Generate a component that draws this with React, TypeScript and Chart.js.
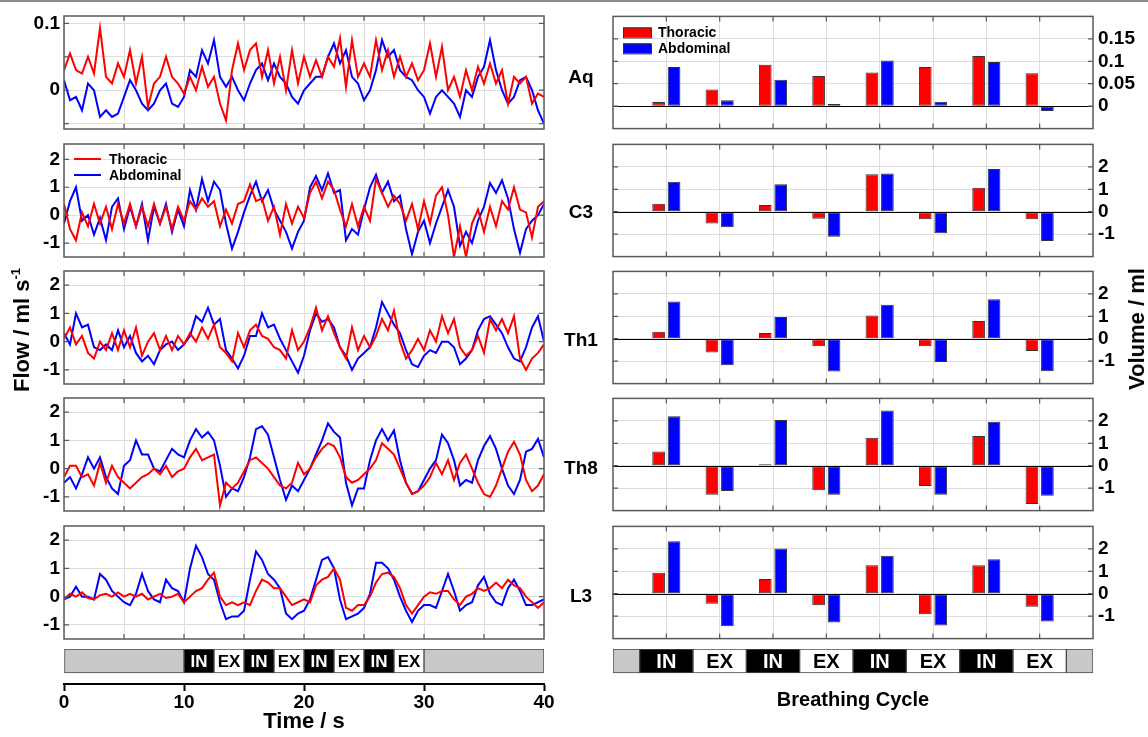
import React, { useEffect, useRef } from "react";
import { Chart, registerables } from "chart.js";

Chart.register(...registerables);

const FONT = "'Liberation Sans', Arial, Helvetica, sans-serif";
const RED = "#ff0000";
const BLUE = "#0000ff";
const GRID = "#dedede";
const FRAME = "#5a5a5a";

// ------------------------------------------------------------------ data
const SERIES_NAMES = ["Thoracic", "Abdominal"];
const ROW_NAMES = ["Aq", "C3", "Th1", "Th8", "L3"];
const SAMPLE_STEP_S = 0.5; // flow samples every 0.5 s, 0..40 s

const AQ_FLOW_THORACIC = [
  0.03, 0.055, 0.03, 0.025, 0.05, 0.025, 0.093, 0.02, 0.01, 0.04,
  0.02, 0.06, 0.01, 0.05, -0.025, 0.01, 0.02, 0.05, 0.02, 0.01,
  -0.005, 0.02, 0.0, 0.035, 0.005, 0.02, -0.02, -0.045, 0.03, 0.07,
  0.03, 0.06, 0.07, 0.02, 0.06, 0.01, 0.05, 0.0, 0.06, 0.01,
  0.05, 0.02, 0.045, 0.02, 0.05, 0.035, 0.078, 0.005, 0.075, 0.02,
  0.04, 0.02, 0.075, 0.03, 0.06, 0.02, 0.05, 0.02, 0.04, 0.015,
  0.03, 0.07, 0.02, 0.065, 0.0, 0.02, -0.01, 0.03, 0.0, 0.035,
  0.01, 0.04, 0.01, 0.03, -0.02, 0.02, 0.01, 0.02, -0.02, -0.005,
  -0.01,
];
const AQ_FLOW_ABDOMINAL = [
  0.015, -0.015, -0.01, -0.03, 0.01, 0.0, -0.04, -0.03, -0.04, -0.035,
  -0.01, 0.015, 0.0, -0.02, -0.03, -0.02, 0.0, 0.01, -0.02, -0.025,
  -0.01, 0.03, 0.02, 0.06, 0.04, 0.075, 0.02, 0.005, 0.02, 0.0,
  -0.015, 0.01, 0.03, 0.04, 0.015, 0.04, 0.02, 0.01, -0.01, -0.02,
  0.0, 0.01, 0.02, 0.02, 0.05, 0.07, 0.04, 0.06, 0.02, 0.01,
  -0.015, 0.0, 0.03, 0.075, 0.05, 0.06, 0.03, 0.02, 0.015, 0.0,
  -0.01, -0.035, -0.01, 0.0, -0.01, -0.02, -0.04, 0.0, -0.01, 0.02,
  0.035, 0.075, 0.03, 0.0, -0.02, -0.01, 0.015, 0.02, 0.0, -0.03,
  -0.05,
];
const C3_FLOW_THORACIC = [
  0.4, -0.5, -0.9, 0.1, -0.4, 0.4, -0.3, 0.3, -0.5, 0.4,
  -0.3, 0.4, -0.4, 0.3, -0.4, 0.4, -0.3, 0.3, -0.5, 0.3,
  -0.2, 0.5, 0.2, 0.6, 0.3, 0.5, -0.4, 0.2, -0.3, 0.4,
  0.5, 1.1, 0.5, 0.6, -0.2, 0.3, -0.7, 0.4, -0.3, 0.3,
  -0.1, 0.8, 1.2, 0.6, 1.2, 0.9, 0.2, -0.4, 0.4, -0.4,
  0.3, -0.2, 1.3, 0.8, 0.3, 0.7, 0.4, -0.2, 0.4, -0.5,
  0.5, -0.3, 0.7, 1.0, 0.0, -1.5, -0.4, -1.5, -0.3, 0.2,
  -0.6, 0.3, -0.4, 0.5, 0.2, 1.0, 0.2, 0.1, -0.8, 0.3,
  0.5,
];
const C3_FLOW_ABDOMINAL = [
  -0.3, 0.5, 1.0, -0.2, 0.0, -0.7, -0.1, -0.9, 0.3, 0.6,
  -0.5, 0.3, -0.4, 0.4, -0.9, 0.3, -0.3, 0.4, -0.6, 0.2,
  -0.4, 0.9, 0.2, 1.3, 0.5, 1.2, 0.9, -0.3, -1.2, -0.6,
  0.1, 0.7, 1.2, 0.5, 0.9, 0.2, -0.2, -0.6, -1.2, -0.6,
  -0.2, 1.0, 1.4, 0.9, 1.5, 0.8, 0.9, -0.9, -0.5, -0.7,
  0.2, 1.0, 1.45, 0.8, 1.2, 0.5, 0.7, -0.5, -1.4, -0.6,
  -0.2, -1.0, -0.3, 0.3, 0.9, 0.3, -1.1, -0.6, -1.0, -0.2,
  0.3, 1.15, 0.8, 1.25, 0.6, -0.5, -1.35, -0.5, -0.2, 0.0,
  0.4,
];
const TH1_FLOW_THORACIC = [
  0.1, 0.5, -0.1, 0.2, -0.4, -0.6, 0.0, -0.3, 0.3, -0.3,
  0.4, -0.2, 0.5, -0.5, 0.0, 0.3, -0.3, 0.2, -0.3, 0.2,
  -0.1, 0.3, 0.0, 0.5, 0.1, 0.6, -0.2, -0.4, -0.7, 0.3,
  -0.2, 0.4, 0.6, 0.2, 0.1, -0.2, -0.3, -0.6, 0.4, -0.3,
  0.0, 0.5, 1.2, 0.4, 0.9, 0.3, -0.2, -0.6, 0.5, -0.3,
  0.2, -0.2, 0.2, 0.8, 0.4, 1.1, 0.0, -0.6, -0.3, 0.1,
  -0.3, 0.4, 0.0, 0.9, 0.3, 0.8, -0.2, -0.5, -0.3, 0.2,
  -0.4, 0.8, 0.4, 0.8, 0.3, 0.9, -0.6, -1.0, -0.6, -0.4,
  -0.1,
];
const TH1_FLOW_ABDOMINAL = [
  0.3, -0.1, 1.0, 0.5, 0.6, -0.2, -0.3, -0.1, -0.3, 0.4,
  -0.2, 0.2, -0.4, -0.7, -0.5, -0.8, -0.3, -0.1, 0.0, -0.3,
  -0.1, 0.2, 0.9, 0.7, 1.2, 0.6, 0.8, -0.3, -0.6, -0.95,
  -0.5, 0.2, 0.2, 1.0, 0.5, 0.6, 0.1, -0.3, -0.7, -1.1,
  -0.5, 0.4, 1.0, 0.7, 0.8, 0.5, -0.2, -0.5, -1.0, -0.6,
  -0.4, -0.2, 0.5, 1.4, 1.0, 0.6, 0.3, -0.3, -0.8, -0.9,
  -0.5, -0.3, -0.4, 0.0, 0.0, -0.2, -0.8, -0.6, -0.3, 0.4,
  0.8, 0.9, 0.6, 0.3, -0.2, -0.6, -0.7, -0.2, 0.5, 0.9,
  0.0,
];
const TH8_FLOW_THORACIC = [
  -0.3, 0.1, 0.1, -0.3, -0.2, -0.6, 0.2, -0.5, 0.1, -0.3,
  -0.5, -0.7, -0.5, -0.3, -0.2, 0.0, -0.2, 0.1, -0.3, -0.1,
  0.0, 0.4, 0.7, 0.3, 0.4, 0.5, -1.3, -0.5, -0.7, -0.5,
  -0.1, 0.3, 0.4, 0.2, 0.0, -0.3, -0.6, -0.7, -0.5, 0.2,
  -0.2, 0.0, 0.4, 0.7, 0.9, 0.8, 0.4, -0.3, -0.5, -0.4,
  -0.2, 0.0, 0.3, 0.9, 0.7, 0.5, 0.0, -0.5, -0.9, -0.8,
  -0.6, -0.3, 0.2, -0.2, 0.3, -0.4, 0.2, 0.5, 0.0, -0.5,
  -0.9, -1.0, -0.6, 0.0, 0.6, 0.95, 0.5, -0.4, -0.8, -0.6,
  -0.2,
];
const TH8_FLOW_ABDOMINAL = [
  -0.5, -0.3, -0.7, -0.2, 0.4, 0.0, 0.4, -0.3, -0.7, -0.9,
  0.1, 0.3, 1.0, 0.5, 0.5, 0.0, -0.1, 0.3, 0.7, 0.5,
  0.4, 1.0, 1.4, 1.1, 1.3, 1.0, 0.1, -1.0, -0.7, -0.8,
  -0.3, 0.4, 1.4, 1.5, 1.2, 0.4, -0.4, -1.1, -0.6, -0.8,
  -0.4, 0.0, 0.5, 1.0, 1.6, 1.3, 1.1, -0.5, -1.3, -0.7,
  -0.7, 0.3, 1.0, 1.4, 1.0, 1.35, 0.3, -0.5, -0.9, -0.8,
  -0.4, 0.0, 0.3, 1.2, 0.9, 0.3, -0.6, -0.4, -0.5, 0.3,
  0.8, 1.15, 0.7, 0.0, -0.6, -0.9, -0.4, 0.6, 0.7, 1.05,
  0.4,
];
const L3_FLOW_THORACIC = [
  -0.1, 0.1, 0.0, 0.15, -0.05, -0.1, 0.05, 0.1, 0.0, 0.15,
  0.0, 0.1, 0.0, 0.1, -0.1, 0.0, 0.1, -0.05, 0.0, 0.1,
  -0.2, 0.0, 0.2, 0.3, 0.6, 0.85, 0.0, -0.3, -0.2, -0.3,
  -0.2, -0.3, 0.2, 0.6, 0.5, 0.3, 0.3, 0.0, -0.3, -0.2,
  -0.1, -0.2, 0.4, 0.6, 0.7, 1.0, 0.6, -0.4, -0.5, -0.3,
  -0.3, 0.0, 0.5, 0.8, 0.85, 0.7, 0.3, -0.3, -0.6, -0.3,
  0.0, 0.15, 0.1, 0.2, 0.2, -0.1, -0.3, 0.0, 0.1, 0.3,
  0.2, 0.3, 0.5, 0.3, 0.6, 0.4, 0.3, 0.0, -0.2, -0.4,
  -0.2,
];
const L3_FLOW_ABDOMINAL = [
  -0.1, 0.0, 0.35, 0.0, 0.0, -0.1, 0.8, 0.6, 0.2, 0.0,
  -0.2, -0.3, 0.1, 0.8, 0.2, -0.1, -0.2, 0.6, 0.3, 0.2,
  -0.2, 1.0, 1.8, 1.4, 0.8, 0.6, -0.2, -0.8, -0.7, -0.7,
  -0.5, 0.6, 1.6, 1.3, 0.8, 0.6, 0.3, -0.6, -0.8, -0.6,
  -0.5, -0.1, 0.6, 1.3, 1.4, 1.0, -0.1, -0.8, -0.7, -0.6,
  -0.4, 0.1, 1.2, 1.2, 1.0, 0.6, 0.0, -0.5, -0.9, -0.5,
  -0.3, -0.3, -0.4, 0.2, 0.8, 0.2, -0.5, -0.3, -0.2, 0.4,
  0.7, 0.1, -0.2, -0.3, 0.3, 0.6, 0.2, -0.3, -0.3, -0.2,
  -0.1,
];

const CYCLES = [1, 2, 3, 4, 5, 6, 7, 8];
const AQ_VOL_THORACIC = [0.009, 0.037, 0.092, 0.067, 0.075, 0.087, 0.112, 0.0735];
const AQ_VOL_ABDOMINAL = [0.0875, 0.013, 0.059, 0.005, 0.102, 0.01, 0.0985, -0.011];
const C3_VOL_THORACIC = [0.36, -0.52, 0.3, -0.31, 1.67, -0.34, 1.07, -0.33];
const C3_VOL_ABDOMINAL = [1.34, -0.69, 1.22, -1.12, 1.7, -0.96, 1.9, -1.3];
const TH1_VOL_THORACIC = [0.31, -0.61, 0.25, -0.34, 1.04, -0.34, 0.79, -0.55];
const TH1_VOL_ABDOMINAL = [1.66, -1.18, 0.97, -1.46, 1.51, -1.04, 1.76, -1.45];
const TH8_VOL_THORACIC = [0.63, -1.29, 0.06, -1.09, 1.25, -0.9, 1.32, -1.71];
const TH8_VOL_ABDOMINAL = [2.21, -1.13, 2.04, -1.29, 2.46, -1.29, 1.96, -1.34];
const L3_VOL_THORACIC = [0.94, -0.45, 0.66, -0.51, 1.27, -0.91, 1.27, -0.58];
const L3_VOL_ABDOMINAL = [2.34, -1.45, 2.01, -1.28, 1.69, -1.42, 1.54, -1.24];

const TIME_GRID = [0, 5, 10, 15, 20, 25, 30, 35, 40];
const TIME_TICKS = [0, 10, 20, 30, 40];
const FLOW_TICKS_AQ = [-0.05, 0, 0.05, 0.1];
const FLOW_LABELS_AQ = [0, 0.1];
const FLOW_TICKS = [-1, 0, 1, 2];
const VOL_TICKS_AQ = [0, 0.05, 0.1, 0.15];
const VOL_TICKS = [-1, 0, 1, 2];

const TIME_PHASE_BOUNDS = [0, 10, 12.5, 15, 17.5, 20, 22.5, 25, 27.5, 30, 40];
const TIME_PHASE_LABELS = ["", "IN", "EX", "IN", "EX", "IN", "EX", "IN", "EX", ""];
const CYCLE_PHASE_BOUNDS = [0, 0.5, 1.5, 2.5, 3.5, 4.5, 5.5, 6.5, 7.5, 8.5, 9];
const CYCLE_PHASE_LABELS = ["", "IN", "EX", "IN", "EX", "IN", "EX", "IN", "EX", ""];

// ------------------------------------------------------------------ layout
const LEFT_X0 = 64;
const LEFT_X1 = 544;
const RIGHT_X0 = 613;
const RIGHT_X1 = 1093;
const LEFT_W = 560;
const RIGHT_LEFT = 560;
const RIGHT_W = 588;
const PANEL_TOPS = [16, 144, 271, 398, 526];
const PANEL_H = 113;
const PAD = 16;
const STATUS_CANVAS_TOP = 640;
const STATUS_TOP = 649;
const STATUS_H = 24;
const AXIS_Y = 684;
const TICK_FONT = 19;

const FLOW_PANELS = [
  { thor: AQ_FLOW_THORACIC, abd: AQ_FLOW_ABDOMINAL, min: -0.058, max: 0.111, ticks: FLOW_TICKS_AQ, labels: FLOW_LABELS_AQ },
  { thor: C3_FLOW_THORACIC, abd: C3_FLOW_ABDOMINAL, min: -1.5, max: 2.55, ticks: FLOW_TICKS, labels: FLOW_TICKS },
  { thor: TH1_FLOW_THORACIC, abd: TH1_FLOW_ABDOMINAL, min: -1.5, max: 2.5, ticks: FLOW_TICKS, labels: FLOW_TICKS },
  { thor: TH8_FLOW_THORACIC, abd: TH8_FLOW_ABDOMINAL, min: -1.5, max: 2.5, ticks: FLOW_TICKS, labels: FLOW_TICKS },
  { thor: L3_FLOW_THORACIC, abd: L3_FLOW_ABDOMINAL, min: -1.5, max: 2.5, ticks: FLOW_TICKS, labels: FLOW_TICKS },
];

const VOL_PANELS = [
  { thor: AQ_VOL_THORACIC, abd: AQ_VOL_ABDOMINAL, min: -0.05, max: 0.2, ticks: VOL_TICKS_AQ },
  { thor: C3_VOL_THORACIC, abd: C3_VOL_ABDOMINAL, min: -2, max: 3, ticks: VOL_TICKS },
  { thor: TH1_VOL_THORACIC, abd: TH1_VOL_ABDOMINAL, min: -2, max: 3, ticks: VOL_TICKS },
  { thor: TH8_VOL_THORACIC, abd: TH8_VOL_ABDOMINAL, min: -2, max: 3, ticks: VOL_TICKS },
  { thor: L3_VOL_THORACIC, abd: L3_VOL_ABDOMINAL, min: -2, max: 3, ticks: VOL_TICKS },
];

const ROW_LABEL_Y = [76, 211, 339, 467, 595];

// ------------------------------------------------------------------ plugins
function framePlugin(xMarks: number[], yMarks: number[], zeroLine: boolean) {
  return {
    id: "frame",
    afterDatasetsDraw(chart: any) {
      const { ctx, chartArea: a, scales } = chart;
      ctx.save();
      if (zeroLine) {
        const y0 = Math.round(scales.y.getPixelForValue(0)) + 0.5;
        ctx.strokeStyle = "#000";
        ctx.lineWidth = 1;
        ctx.beginPath();
        ctx.moveTo(a.left, y0);
        ctx.lineTo(a.right, y0);
        ctx.stroke();
      }
      ctx.strokeStyle = FRAME;
      ctx.lineWidth = 1.5;
      ctx.strokeRect(a.left, a.top, a.right - a.left, a.bottom - a.top);
      ctx.lineWidth = 1.2;
      ctx.beginPath();
      const L = 5;
      xMarks.forEach((v) => {
        const x = scales.x.getPixelForValue(v);
        if (x <= a.left + 1 || x >= a.right - 1) return;
        ctx.moveTo(x, a.top);
        ctx.lineTo(x, a.top + L);
        ctx.moveTo(x, a.bottom);
        ctx.lineTo(x, a.bottom - L);
      });
      yMarks.forEach((v) => {
        const y = scales.y.getPixelForValue(v);
        if (y <= a.top + 1 || y >= a.bottom - 1) return;
        ctx.moveTo(a.left, y);
        ctx.lineTo(a.left + L, y);
        ctx.moveTo(a.right, y);
        ctx.lineTo(a.right - L, y);
      });
      ctx.stroke();
      ctx.restore();
    },
  };
}

function lineLegendPlugin() {
  return {
    id: "lineLegend",
    afterDraw(chart: any) {
      const { ctx, chartArea: a } = chart;
      ctx.save();
      ctx.font = `bold 14px ${FONT}`;
      ctx.textBaseline = "middle";
      ctx.textAlign = "left";
      chart.data.datasets.forEach((ds: any, i: number) => {
        const y = a.top + 15 + i * 16;
        ctx.strokeStyle = ds.borderColor;
        ctx.lineWidth = 2;
        ctx.beginPath();
        ctx.moveTo(a.left + 10, y);
        ctx.lineTo(a.left + 37, y);
        ctx.stroke();
        ctx.fillStyle = "#000";
        ctx.fillText(ds.label, a.left + 45, y + 1);
      });
      ctx.restore();
    },
  };
}

function barLegendPlugin() {
  return {
    id: "barLegend",
    afterDraw(chart: any) {
      const { ctx, chartArea: a } = chart;
      ctx.save();
      ctx.font = `bold 14px ${FONT}`;
      ctx.textBaseline = "middle";
      ctx.textAlign = "left";
      chart.data.datasets.forEach((ds: any, i: number) => {
        const y = a.top + 16 + i * 16;
        ctx.fillStyle = ds.backgroundColor;
        ctx.fillRect(a.left + 10, y - 5, 28, 10);
        ctx.strokeStyle = "#333";
        ctx.lineWidth = 1;
        ctx.strokeRect(a.left + 10.5, y - 4.5, 28, 10);
        ctx.fillStyle = "#000";
        ctx.fillText(ds.label, a.left + 45, y + 1);
      });
      ctx.restore();
    },
  };
}

function phaseLabelPlugin(labels: string[], fontSize: number) {
  return {
    id: "phaseLabels",
    afterDatasetsDraw(chart: any) {
      const { ctx } = chart;
      ctx.save();
      ctx.font = `bold ${fontSize}px ${FONT}`;
      ctx.textAlign = "center";
      ctx.textBaseline = "middle";
      labels.forEach((lab, i) => {
        if (!lab) return;
        const el = chart.getDatasetMeta(i).data[0];
        if (!el) return;
        const p = el.getProps(["x", "base", "y"], true);
        ctx.fillStyle = lab === "IN" ? "#fff" : "#000";
        ctx.fillText(lab, (p.x + p.base) / 2, p.y + 1);
      });
      ctx.restore();
    },
  };
}

// ------------------------------------------------------------------ configs
const tickFont = (size: number) => ({ family: FONT, size, weight: "bold" as const });

function flowConfig(p: any, withLegend: boolean) {
  const pts = (vals: number[]) => vals.map((v, i) => ({ x: i * SAMPLE_STEP_S, y: v }));
  return {
    type: "line",
    data: {
      datasets: [
        { label: SERIES_NAMES[0], data: pts(p.thor), borderColor: RED, borderWidth: 2, pointRadius: 0, tension: 0 },
        { label: SERIES_NAMES[1], data: pts(p.abd), borderColor: BLUE, borderWidth: 2, pointRadius: 0, tension: 0 },
      ],
    },
    options: {
      responsive: false,
      animation: false,
      events: [],
      layout: { padding: { top: PAD, bottom: PAD, left: 0, right: LEFT_W - LEFT_X1 } },
      plugins: { legend: { display: false }, tooltip: { enabled: false } },
      scales: {
        x: {
          type: "linear",
          min: 0,
          max: 40,
          afterBuildTicks: (s: any) => {
            s.ticks = TIME_GRID.map((v) => ({ value: v }));
          },
          ticks: { display: false },
          grid: { color: GRID, drawTicks: false },
          border: { display: false },
          afterFit: (s: any) => {
            s.height = 0;
          },
        },
        y: {
          type: "linear",
          min: p.min,
          max: p.max,
          afterBuildTicks: (s: any) => {
            s.ticks = p.ticks.map((v: number) => ({ value: v }));
          },
          ticks: {
            font: tickFont(TICK_FONT),
            color: "#000",
            padding: 4,
            callback: (v: any) => (p.labels.includes(v) ? String(v) : ""),
          },
          grid: { color: GRID, drawTicks: false },
          border: { display: false },
          afterFit: (s: any) => {
            s.width = LEFT_X0;
          },
        },
      },
    },
    plugins: [framePlugin(TIME_GRID, p.ticks, false), ...(withLegend ? [lineLegendPlugin()] : [])],
  };
}

function volConfig(p: any, withLegend: boolean) {
  const pts = (vals: number[]) => CYCLES.map((c, i) => ({ x: c, y: vals[i] }));
  const common = { borderColor: "#333", borderWidth: 1, borderSkipped: false, categoryPercentage: 0.58, barPercentage: 0.82 };
  return {
    type: "bar",
    data: {
      datasets: [
        { label: SERIES_NAMES[0], data: pts(p.thor), backgroundColor: RED, ...common },
        { label: SERIES_NAMES[1], data: pts(p.abd), backgroundColor: BLUE, ...common },
      ],
    },
    options: {
      responsive: false,
      animation: false,
      events: [],
      layout: { padding: { top: PAD, bottom: PAD, left: RIGHT_X0 - RIGHT_LEFT, right: 0 } },
      plugins: { legend: { display: false }, tooltip: { enabled: false } },
      scales: {
        x: {
          type: "linear",
          min: 0,
          max: CYCLES.length + 1,
          offset: false,
          afterBuildTicks: (s: any) => {
            s.ticks = CYCLES.map((v) => ({ value: v }));
          },
          ticks: { display: false },
          grid: { color: GRID, drawTicks: false, offset: false },
          border: { display: false },
          afterFit: (s: any) => {
            s.height = 0;
          },
        },
        y: {
          type: "linear",
          position: "right",
          min: p.min,
          max: p.max,
          afterBuildTicks: (s: any) => {
            s.ticks = p.ticks.map((v: number) => ({ value: v }));
          },
          ticks: { font: tickFont(TICK_FONT), color: "#000", padding: 5, callback: (v: any) => String(v) },
          grid: { color: GRID, drawTicks: false },
          border: { display: false },
          afterFit: (s: any) => {
            s.width = RIGHT_LEFT + RIGHT_W - RIGHT_X1;
          },
        },
      },
    },
    plugins: [framePlugin(CYCLES, p.ticks, true), ...(withLegend ? [barLegendPlugin()] : [])],
  };
}

const phaseColor = (lab: string) => (lab === "IN" ? "#000" : lab === "EX" ? "#fff" : "#c8c8c8");

function statusConfig(
  bounds: number[],
  labels: string[],
  xMax: number,
  padLeft: number,
  padRight: number,
  showAxis: boolean,
  title: string,
  titleSize: number,
  titlePadBottom: number,
  fontSize: number
) {
  const areaH = AXIS_Y - STATUS_TOP;
  const rowValue = areaH - STATUS_H / 2; // y-scale in pixel units
  const datasets = labels.map((lab, i) => ({
    label: lab || "rest",
    data: [{ x: [bounds[i], bounds[i + 1]], y: rowValue }],
    backgroundColor: phaseColor(lab),
    borderColor: "#4a4a4a",
    borderWidth: 1,
    borderSkipped: false,
    barThickness: STATUS_H,
    grouped: false,
  }));
  return {
    type: "bar",
    data: { datasets },
    options: {
      indexAxis: "y",
      responsive: false,
      animation: false,
      events: [],
      layout: { padding: { top: STATUS_TOP - STATUS_CANVAS_TOP, bottom: 0, left: padLeft, right: padRight } },
      plugins: { legend: { display: false }, tooltip: { enabled: false } },
      scales: {
        x: {
          type: "linear",
          min: 0,
          max: xMax,
          offset: false,
          afterBuildTicks: (s: any) => {
            s.ticks = (showAxis ? TIME_TICKS : []).map((v) => ({ value: v }));
          },
          ticks: { display: showAxis, font: tickFont(TICK_FONT), color: "#000", padding: 0 },
          grid: {
            display: showAxis,
            drawOnChartArea: false,
            drawTicks: true,
            tickLength: 7,
            tickWidth: 2,
            tickColor: "#000",
            offset: false,
          },
          border: { display: showAxis, color: "#000", width: 2 },
          title: {
            display: true,
            text: title,
            font: tickFont(titleSize),
            color: "#000",
            padding: { top: 0, bottom: titlePadBottom },
          },
          afterFit: (s: any) => {
            s.height = 737 - AXIS_Y;
          },
        },
        y: { type: "linear", min: 0, max: areaH, offset: false, display: false },
      },
    },
    plugins: [phaseLabelPlugin(labels, fontSize)],
  };
}

// ------------------------------------------------------------------ components
function ChartBox({ left, top, width, height, make }: { left: number; top: number; width: number; height: number; make: () => any }) {
  const ref = useRef<HTMLCanvasElement | null>(null);
  useEffect(() => {
    if (!ref.current) return;
    const chart = new Chart(ref.current, make());
    return () => chart.destroy();
  }, []);
  return (
    <canvas
      ref={ref}
      width={width}
      height={height}
      style={{ position: "absolute", left, top, width, height, display: "block" }}
    />
  );
}

const textStyle: React.CSSProperties = {
  position: "absolute",
  fontFamily: FONT,
  fontWeight: "bold",
  color: "#000",
  whiteSpace: "nowrap",
  transform: "translate(-50%, -50%)",
  lineHeight: 1,
};

export default function App() {
  return (
    <div style={{ position: "absolute", left: 0, top: 0, width: 1148, height: 737, background: "#fff", overflow: "hidden" }}>
      <div style={{ position: "absolute", left: 0, top: 0, width: 1148, height: 2, background: "#8c8c8c" }} />
      {FLOW_PANELS.map((p, i) => (
        <ChartBox
          key={"f" + i}
          left={0}
          top={PANEL_TOPS[i] - PAD}
          width={LEFT_W}
          height={PANEL_H + 2 * PAD}
          make={() => flowConfig(p, i === 1)}
        />
      ))}
      {VOL_PANELS.map((p, i) => (
        <ChartBox
          key={"v" + i}
          left={RIGHT_LEFT}
          top={PANEL_TOPS[i] - PAD}
          width={RIGHT_W}
          height={PANEL_H + 2 * PAD}
          make={() => volConfig(p, i === 0)}
        />
      ))}
      <ChartBox
        left={0}
        top={STATUS_CANVAS_TOP}
        width={LEFT_W}
        height={737 - STATUS_CANVAS_TOP}
        make={() =>
          statusConfig(TIME_PHASE_BOUNDS, TIME_PHASE_LABELS, 40, LEFT_X0, LEFT_W - LEFT_X1, true, "Time / s", 22, 2, 17)
        }
      />
      <ChartBox
        left={RIGHT_LEFT}
        top={STATUS_CANVAS_TOP}
        width={RIGHT_W}
        height={737 - STATUS_CANVAS_TOP}
        make={() =>
          statusConfig(
            CYCLE_PHASE_BOUNDS,
            CYCLE_PHASE_LABELS,
            CYCLES.length + 1,
            RIGHT_X0 - RIGHT_LEFT,
            RIGHT_LEFT + RIGHT_W - RIGHT_X1,
            false,
            "Breathing Cycle",
            20,
            25,
            20
          )
        }
      />
      {ROW_NAMES.map((name, i) => (
        <div key={name} style={{ ...textStyle, left: 581, top: ROW_LABEL_Y[i], fontSize: 19 }}>
          {name}
        </div>
      ))}
      <div style={{ ...textStyle, left: 21, top: 330, fontSize: 22, transform: "translate(-50%, -50%) rotate(-90deg)" }}>
        Flow / ml s<sup style={{ fontSize: 13, verticalAlign: "9px" }}>-1</sup>
      </div>
      <div style={{ ...textStyle, left: 1137, top: 329, fontSize: 22, transform: "translate(-50%, -50%) rotate(-90deg)" }}>
        Volume / ml
      </div>
    </div>
  );
}
